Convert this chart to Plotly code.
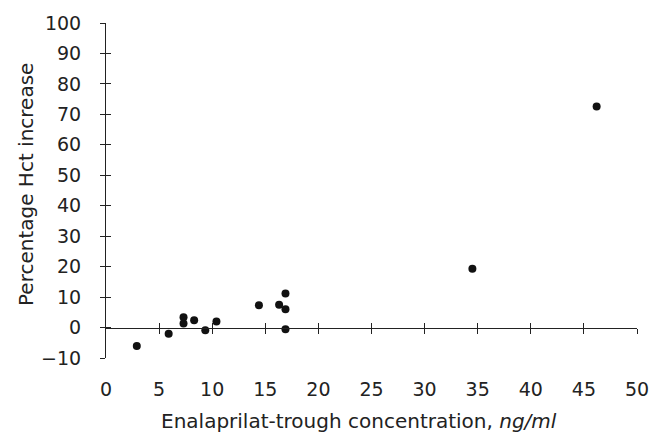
import plotly.graph_objects as go

# Data
conc = [2.9, 5.9, 7.3, 7.3, 8.3, 9.35, 10.4, 14.4, 16.3, 16.9, 16.9, 16.9, 34.5, 46.2]
hct = [-6.1, -2.0, 3.4, 1.3, 2.4, -0.9, 2.0, 7.3, 7.5, 6.0, 11.2, -0.6, 19.3, 72.6]

x_ticks = [0, 5, 10, 15, 20, 25, 30, 35, 40, 45, 50]
y_ticks = [-10, 0, 10, 20, 30, 40, 50, 60, 70, 80, 90, 100]
x_labels = [str(v) for v in x_ticks]
y_labels = [("\u221210" if v < 0 else str(v)) for v in y_ticks]

XR = [0, 50]
YR = [-10, 100]
FONT = "DejaVu Sans, Liberation Sans, Arial, sans-serif"
FS = 19
FT = 20
LC = "#222222"
TC = "#222222"

fig = go.Figure()
fig.add_trace(go.Scatter(x=conc, y=hct, mode="markers",
                         marker=dict(color="#111111", size=8),
                         showlegend=False, hoverinfo="x+y"))
# helper empty traces so overlay axes are drawn
fig.add_trace(go.Scatter(x=[None], y=[None], xaxis="x2", yaxis="y", showlegend=False, hoverinfo="skip"))
fig.add_trace(go.Scatter(x=[None], y=[None], xaxis="x3", yaxis="y", showlegend=False, hoverinfo="skip"))
fig.add_trace(go.Scatter(x=[None], y=[None], xaxis="x", yaxis="y2", showlegend=False, hoverinfo="skip"))
fig.add_trace(go.Scatter(x=[None], y=[None], xaxis="x", yaxis="y3", showlegend=False, hoverinfo="skip"))

zero_pos = (0 - YR[0]) / (YR[1] - YR[0])

fig.update_layout(
    width=653, height=435,
    margin=dict(l=106, r=16, t=23, b=77),
    paper_bgcolor="white", plot_bgcolor="white",
    font=dict(family=FONT, size=FS, color=TC),
    xaxis=dict(range=XR, showline=False, showgrid=False, zeroline=False, automargin=False,
               tickmode="array", tickvals=x_ticks, ticktext=x_labels,
               ticks="outside", ticklen=14, tickcolor="rgba(0,0,0,0)",
               tickfont=dict(size=FS)),
    xaxis2=dict(range=XR, overlaying="x", anchor="free", position=zero_pos,
                showline=True, linecolor=LC, linewidth=1.3,
                showgrid=False, zeroline=False, showticklabels=False,
                tickmode="array", tickvals=x_ticks[1:], ticks="outside",
                ticklen=5, tickwidth=1.3, tickcolor=LC),
    xaxis3=dict(range=XR, overlaying="x", anchor="free", position=zero_pos,
                showline=False, showgrid=False, zeroline=False, showticklabels=False,
                tickmode="array", tickvals=x_ticks[1:], ticks="inside",
                ticklen=5, tickwidth=1.3, tickcolor=LC),
    yaxis=dict(range=YR, showline=False, showgrid=False, zeroline=False, automargin=False,
               tickmode="array", tickvals=y_ticks, ticktext=y_labels,
               ticks="outside", ticklen=20, tickcolor="rgba(0,0,0,0)",
               tickfont=dict(size=FS)),
    yaxis2=dict(range=YR, overlaying="y", side="left", anchor="x",
                showline=True, linecolor=LC, linewidth=1.3,
                showgrid=False, zeroline=False, showticklabels=False,
                tickmode="array", tickvals=y_ticks, ticks="outside",
                ticklen=5, tickwidth=1.3, tickcolor=LC),
    yaxis3=dict(range=YR, overlaying="y", side="left", anchor="x",
                showline=False, showgrid=False, zeroline=False, showticklabels=False,
                tickmode="array", tickvals=y_ticks, ticks="inside",
                ticklen=5, tickwidth=1.3, tickcolor=LC),
    annotations=[
        dict(text="Enalaprilat-trough concentration, <i>ng/ml</i>",
             xref="paper", yref="paper", x=(359 - 106) / 531, y=(358 - 421) / 335,
             xanchor="center", yanchor="middle", showarrow=False,
             font=dict(family=FONT, size=FT, color=TC)),
        dict(text="Percentage Hct increase", textangle=-90,
             xref="paper", yref="paper", x=(26 - 106) / 531, y=(358 - 185) / 335,
             xanchor="center", yanchor="middle", showarrow=False,
             font=dict(family=FONT, size=FT, color=TC)),
    ],
)

fig.write_html("out.html",
               config={"displayModeBar": False},
               post_script="document.body.style.margin='0';document.body.style.overflow='hidden';")
